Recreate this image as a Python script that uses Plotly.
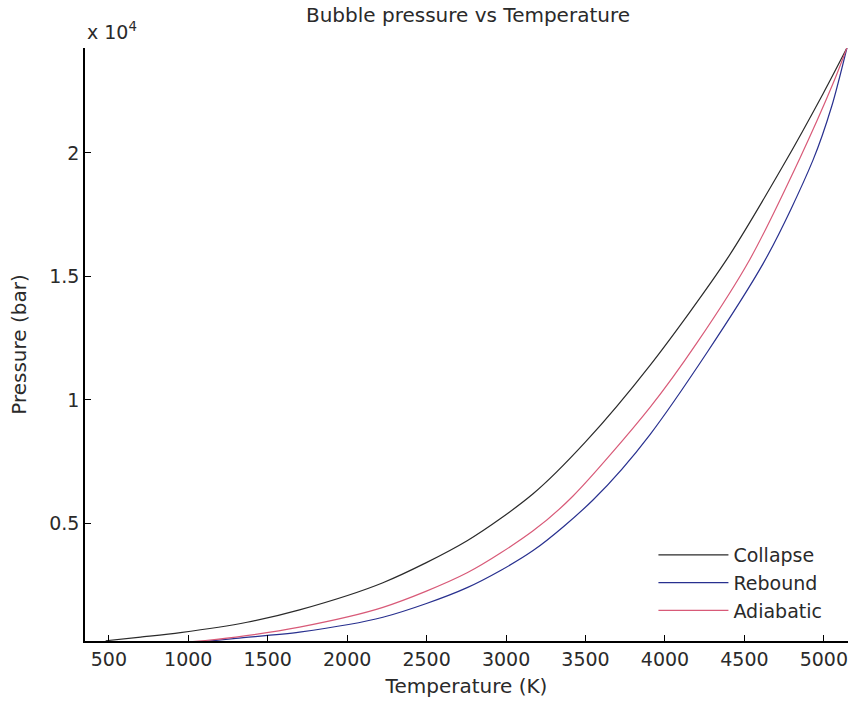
import plotly.graph_objects as go

# Collapse curve (upper, black)
collapse_T = [480, 700, 950, 1370, 1700, 2225, 2755, 3170, 3500, 3906, 4390, 4745, 4995, 5145]
collapse_P = [0.025, 0.04, 0.058, 0.10, 0.15, 0.26, 0.43, 0.62, 0.83, 1.14, 1.57, 1.95, 2.24, 2.425]

# Rebound curve (lower, blue)
rebound_T = [800, 1000, 1300, 1700, 2225, 2755, 3170, 3547, 3906, 4616, 4931, 5050, 5145]
rebound_P = [0.005, 0.015, 0.035, 0.06, 0.12, 0.24, 0.39, 0.595, 0.86, 1.55, 1.97, 2.19, 2.425]

# Adiabatic curve (middle, red/pink)
adiabatic_T = [780, 1000, 1300, 1700, 2225, 2755, 3170, 3420, 3906, 4200, 4535, 4850, 5057, 5145]
adiabatic_P = [0.01, 0.02, 0.04, 0.08, 0.16, 0.30, 0.47, 0.61, 0.97, 1.23, 1.57, 1.98, 2.28, 2.425]

x_ticks = [500, 1000, 1500, 2000, 2500, 3000, 3500, 4000, 4500, 5000]
y_ticks = [0.5, 1, 1.5, 2]
y_ticklabels = ["0.5", "1", "1.5", "2"]

font = "DejaVu Sans, Liberation Sans, sans-serif"

fig = go.Figure()
fig.add_trace(go.Scatter(x=collapse_T, y=collapse_P, mode="lines", name="Collapse",
                         line=dict(color="#2a2a2a", width=1.2, shape="spline", smoothing=0.8)))
fig.add_trace(go.Scatter(x=rebound_T, y=rebound_P, mode="lines", name="Rebound",
                         line=dict(color="#28308f", width=1.2, shape="spline", smoothing=0.8)))
fig.add_trace(go.Scatter(x=adiabatic_T, y=adiabatic_P, mode="lines", name="Adiabatic",
                         line=dict(color="#d85a78", width=1.2, shape="spline", smoothing=0.8)))

fig.update_layout(
    width=854, height=703,
    margin=dict(l=85, r=6, t=48, b=62),
    paper_bgcolor="white", plot_bgcolor="white",
    font=dict(family=font, size=20, color="#2a2a2a"),
    title=dict(text="Bubble pressure vs Temperature", x=0.548, xanchor="center",
               y=0.978, yanchor="middle", font=dict(size=20)),
    showlegend=True,
    legend=dict(x=0.745, y=0.177, xanchor="left", yanchor="top",
                bgcolor="rgba(255,255,255,0)", borderwidth=0,
                font=dict(size=19), tracegroupgap=0, itemwidth=70),
    xaxis=dict(range=[350, 5152], tickvals=x_ticks, ticks="inside", ticklen=6,
               tickcolor="black", showline=True, linecolor="black", linewidth=1.5,
               showgrid=False, zeroline=False, mirror=False,
               tickfont=dict(size=19),
               title=dict(text="Temperature (K)", standoff=10, font=dict(size=20))),
    yaxis=dict(range=[0.024, 2.425], tickvals=y_ticks, ticktext=y_ticklabels,
               ticks="inside", ticklen=6, tickcolor="black", showline=True,
               linecolor="black", linewidth=1.5, showgrid=False, zeroline=False,
               tickfont=dict(size=19),
               title=dict(text="Pressure (bar)", standoff=17, font=dict(size=20))),
    annotations=[dict(text="x 10<sup>4</sup>", xref="paper", yref="paper", x=0, y=1.005,
                      xanchor="left", yanchor="bottom", showarrow=False,
                      font=dict(size=19))],
)

fig.write_html("out.html")
